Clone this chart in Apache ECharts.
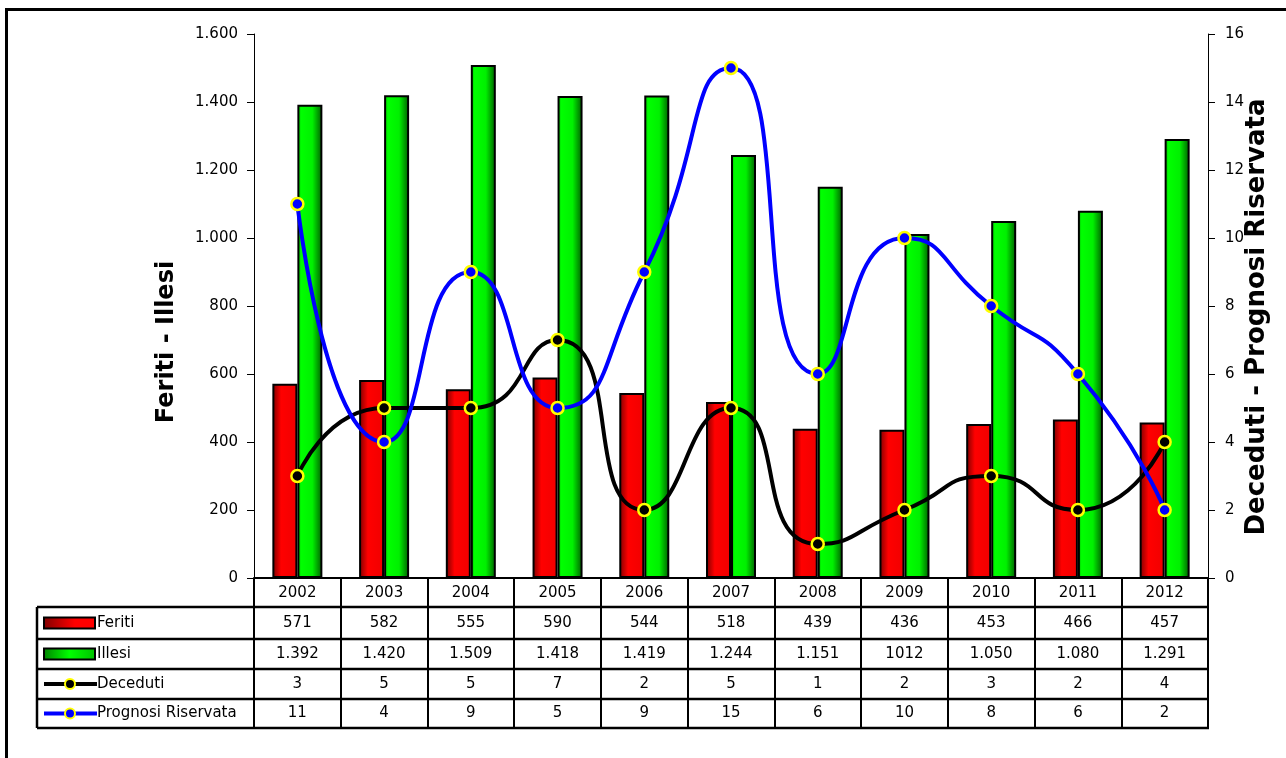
<!DOCTYPE html>
<html><head><meta charset="utf-8">
<script src="https://cdn.jsdelivr.net/npm/echarts@6/dist/echarts.min.js"></script>
<style>html,body{margin:0;padding:0;background:#fff}#c{width:1286px;height:758px}</style>
</head><body><div id="c"></div>
<script>
const years = ['2002','2003','2004','2005','2006','2007','2008','2009','2010','2011','2012'];
const feriti = [571,582,555,590,544,518,439,436,453,466,457];
const illesi = [1392,1420,1509,1418,1419,1244,1151,1012,1050,1080,1291];
const deceduti = [3,5,5,7,2,5,1,2,3,2,4];
const prognosi = [11,4,9,5,9,15,6,10,8,6,2];
const illesiText = ['1.392','1.420','1.509','1.418','1.419','1.244','1.151','1012','1.050','1.080','1.291'];
const leftTicks = {min:0, max:1600, interval:200};
const rightTicks = {min:0, max:16, interval:2};

const FONT = 'DejaVu Sans';
function fmt(v){ return v>=1000 ? Math.floor(v/1000)+'.'+String(v%1000).padStart(3,'0') : String(v); }

const redGrad = new echarts.graphic.LinearGradient(0,0,1,0,[
  {offset:0,color:'#7a0000'},{offset:0.35,color:'#ff0000'},{offset:1,color:'#f00000'}]);
const greenGrad = new echarts.graphic.LinearGradient(0,0,1,0,[
  {offset:0,color:'#00b000'},{offset:0.15,color:'#00ff00'},{offset:0.6,color:'#00f000'},{offset:1,color:'#005a00'}]);

const chart = echarts.init(document.getElementById('c'), null, {renderer:'canvas'});
const option = {
  animation:false,
  backgroundColor:'#fff',
  grid:{left:254, right:78, top:34, bottom:180},
  xAxis:{type:'category', data:years, boundaryGap:true,
    axisLine:{lineStyle:{color:'#000', width:2}},
    axisTick:{show:true, length:150, lineStyle:{color:'#000', width:2}},
    axisLabel:{color:'#000', fontFamily:FONT, fontSize:15, margin:8}},
  yAxis:[
    {type:'value', min:leftTicks.min, max:leftTicks.max, interval:leftTicks.interval,
      axisLine:{show:true, lineStyle:{color:'#000', width:1}},
      axisTick:{show:true, length:7, lineStyle:{color:'#000'}},
      splitLine:{show:false},
      axisLabel:{color:'#000', fontFamily:FONT, fontSize:15, margin:16, formatter:fmt}},
    {type:'value', min:rightTicks.min, max:rightTicks.max, interval:rightTicks.interval,
      axisLine:{show:true, lineStyle:{color:'#000', width:1}},
      axisTick:{show:true, length:7, lineStyle:{color:'#000'}},
      splitLine:{show:false},
      axisLabel:{color:'#000', fontFamily:FONT, fontSize:15, margin:17}}
  ],
  series:[
    {name:'Feriti', type:'bar', data:feriti, barWidth:25, barGap:'0%',
      itemStyle:{color:redGrad, borderColor:'#000', borderWidth:2}},
    {name:'Illesi', type:'bar', data:illesi, barWidth:25, barGap:'0%',
      itemStyle:{color:greenGrad, borderColor:'#000', borderWidth:2}},
    {name:'Deceduti', type:'line', yAxisIndex:1, data:deceduti, smooth:0.6,
      lineStyle:{color:'#000', width:4}, symbol:'circle', symbolSize:12,
      itemStyle:{color:'#000', borderColor:'#ffff00', borderWidth:2.5}},
    {name:'Prognosi Riservata', type:'line', yAxisIndex:1, data:prognosi, smooth:0.6,
      lineStyle:{color:'#0000ff', width:4}, symbol:'circle', symbolSize:12,
      itemStyle:{color:'#0000ff', borderColor:'#ffff00', borderWidth:2.5}}
  ]
};
chart.setOption(option);

// build data table from axis positions
const rowTops = [607, 639, 669, 699, 728];
const tableLeft = 37;
const xRight = chart.convertToPixel({xAxisIndex:0}, years.length-1) + (chart.convertToPixel({xAxisIndex:0},1)-chart.convertToPixel({xAxisIndex:0},0))/2;
const g = [];
g.push({type:'rect', shape:{x:6.5, y:9.5, width:1400, height:1000}, style:{fill:null, stroke:'#000', lineWidth:3}, silent:true});
rowTops.forEach(y=>{
  g.push({type:'line', shape:{x1:tableLeft, y1:y, x2:xRight+1, y2:y}, style:{stroke:'#000', lineWidth:2.5}});
});
g.push({type:'line', shape:{x1:tableLeft, y1:rowTops[0], x2:tableLeft, y2:rowTops[4]}, style:{stroke:'#000', lineWidth:2.5}});
const rows = [
  {label:'Feriti', vals:feriti.map(String), kind:'bar'},
  {label:'Illesi', vals:illesiText, kind:'bar'},
  {label:'Deceduti', vals:deceduti.map(String), kind:'line', color:'#000'},
  {label:'Prognosi Riservata', vals:prognosi.map(String), kind:'line', color:'#0000ff'}
];
rows.forEach((r,ri)=>{
  const cy = (rowTops[ri]+rowTops[ri+1])/2;
  if(r.kind==='bar'){
    g.push({type:'rect', shape:{x:44, y:cy-5.5, width:51, height:11},
      style:{fill:new echarts.graphic.LinearGradient(0,0,1,0, ri===0?
        [{offset:0,color:'#800000'},{offset:0.6,color:'#ff0000'},{offset:1,color:'#ff0000'}]:
        [{offset:0,color:'#008000'},{offset:0.5,color:'#00ff00'},{offset:1,color:'#00c000'}]),
        stroke:'#000', lineWidth:2}});
  } else {
    g.push({type:'line', shape:{x1:44, y1:cy, x2:97, y2:cy}, style:{stroke:r.color, lineWidth:4}});
    g.push({type:'circle', shape:{cx:70, cy:cy, r:5}, style:{fill:r.color, stroke:'#ffff00', lineWidth:2}});
  }
  g.push({type:'text', x:97, y:cy, style:{text:r.label, font:'15px "'+FONT+'"', fill:'#000', align:'left', verticalAlign:'middle'}});
  r.vals.forEach((v,i)=>{
    const x = chart.convertToPixel({xAxisIndex:0}, i);
    g.push({type:'text', x:x, y:cy, style:{text:v, font:'15px "'+FONT+'"', fill:'#000', align:'center', verticalAlign:'middle'}});
  });
});
// axis titles
g.push({type:'text', x:167, y:342, rotation:Math.PI/2,
  style:{text:'Feriti - Illesi', font:'bold 24px "'+FONT+'"', fill:'#000', align:'center', verticalAlign:'middle'}});
g.push({type:'text', x:1257, y:317, rotation:Math.PI/2,
  style:{text:'Deceduti - Prognosi Riservata', font:'bold 26px "'+FONT+'"', fill:'#000', align:'center', verticalAlign:'middle'}});
chart.setOption({graphic:g});
</script></body></html>
